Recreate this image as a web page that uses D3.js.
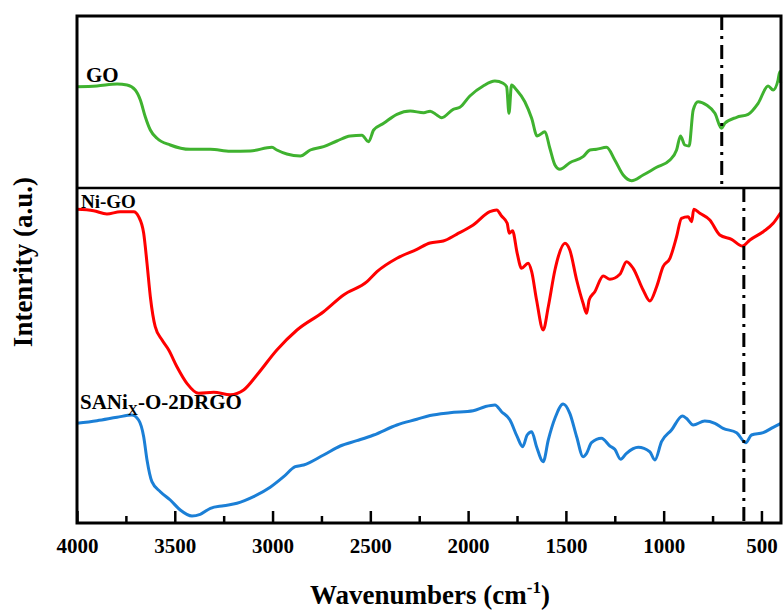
<!DOCTYPE html>
<html><head><meta charset="utf-8">
<script src="https://cdn.jsdelivr.net/npm/d3@7"></script>
<style>
body{margin:0;background:#fff}
svg{display:block}
text{font-family:"Liberation Serif","Times New Roman",serif;font-weight:bold;fill:#000}
</style>
</head><body><svg id="c" width="784" height="615"></svg>
<script>
// ---- data (wavenumber cm-1, intensity a.u.) ----
const goWave = [4000,3898,3795,3744,3702,3676,3651,3625,3591,3523,3421,3318,3216,3114,3003,2978,2927,2858,2807,2739,2671,2603,2543,2509,2483,2432,2364,2296,2227,2194,2160,2135,2076,2042,1991,1923,1863,1821,1803,1791,1778,1752,1710,1675,1647,1607,1582,1556,1531,1480,1412,1377,1343,1292,1250,1207,1164,1105,1036,968,934,914,892,870,849,824,781,738,704,687,627,568,517,466,440,415,406,402];
const goInt  = [436.3,437,439,438,433,423,406.3,393,384.7,378,373.7,373.7,371.7,372,375.7,373,369,367,373,376.3,382,387,387.7,381.3,393,399.7,408.7,412,410.3,411.8,408,405.3,413.7,415.7,427,437,442,439.7,436.3,409.7,438,433,421.3,404.7,387,391.3,374.7,358,353.7,360.3,366.3,373,373.7,375.7,363,348,342.3,348,355.7,363,373,387,378,377,413,421.3,418,409.7,394.7,399.7,405.7,408.7,419.7,437,433,443,451.3,440];

const niWave = [4000,3915,3847,3779,3710,3685,3659,3642,3625,3600,3565,3531,3489,3438,3378,3301,3216,3148,3080,2978,2875,2739,2637,2517,2466,2364,2262,2195,2127,2059,1974,1889,1854,1829,1800,1790,1773,1749,1727,1693,1675,1650,1616,1590,1556,1539,1505,1480,1445,1412,1394,1381,1352,1309,1275,1224,1190,1156,1105,1071,1036,1003,968,934,909,875,857,846,815,764,713,653,597,559,491,440,402];
const niInt  = [313.7,312.3,309,311.3,311.3,306.3,289.7,259.7,226.3,196.3,183,173,156.3,139.7,129.7,130.7,128.3,133,148,173,193,211.3,228,241.3,251.3,264.7,273.7,280,282,288.7,298,311.3,313,307,299.7,289.7,292.3,269.7,254.7,259.7,251.3,223,193,216.3,253,266.3,279.7,273,243,219.7,209.7,223,231.3,247,243.7,248.7,261.3,254.7,233,222,236.3,256.3,264.7,286.3,304.7,306.3,301.3,313.7,309.7,303,288,283.7,277,283,291.3,299.7,310.3];

const saWave = [4000,3898,3795,3719,3685,3659,3642,3617,3574,3523,3472,3412,3370,3318,3250,3182,3097,3012,2943,2884,2841,2739,2654,2569,2483,2364,2262,2195,2093,1974,1914,1863,1829,1786,1749,1721,1698,1675,1650,1616,1590,1556,1514,1480,1445,1412,1394,1369,1318,1275,1250,1220,1190,1130,1071,1045,1011,960,904,884,849,790,738,696,627,580,551,491,440,400];
const saInt  = [99.7,102.3,105.7,108,103,86.3,63,41.3,31.3,23,13,7,8.7,14.7,17.3,19.7,26.3,35.7,46.3,56.3,58,68,77,82.3,88,98,103.7,107.5,110.3,112.3,116.3,118,111.3,103,86.3,76.3,88,91.3,76.3,61.3,83,104.7,119,109.7,86.3,66.3,69.7,80.3,84.7,77,73.7,63.7,69.7,75.7,71.3,63,81.3,93,107,104.7,98,102,99.7,94.7,90.3,80.3,88,90.3,95.7,99.7];

const majorTicks = [4000,3500,3000,2500,2000,1500,1000,500];
const minorTicks = [3750,3250,2750,2250,1750,1250,750];
const panelSplit = 335;          // intensity level separating GO panel
const markerWaves = [703, 590];  // dash-dot reference lines (GO panel, lower panels)
const seriesColors = ["#3fb22f","#ff0000","#1b7fd6"];

// ---- layout ----
const svg = d3.select("#c");
const x = d3.scaleLinear().domain([4000,400]).range([77,781]);
const y = d3.scaleLinear().domain([0,507]).range([523,16]);

const line = d3.line().x(d=>x(d[0])).y(d=>y(d[1])).curve(d3.curveMonotoneX);
const series = [
  d3.zip(goWave, goInt),
  d3.zip(niWave, niInt),
  d3.zip(saWave, saInt)
];

// curves
series.forEach((s,i)=>{
  svg.append("path").datum(s).attr("d",line)
    .attr("fill","none").attr("stroke",seriesColors[i])
    .attr("stroke-width",3).attr("stroke-linejoin","round");
});

// panel divider
svg.append("line").attr("x1",x(4000)).attr("x2",x(400))
  .attr("y1",y(panelSplit)).attr("y2",y(panelSplit))
  .attr("stroke","#000").attr("stroke-width",2.5);

// dash-dot markers
svg.append("line").attr("x1",x(markerWaves[0])).attr("x2",x(markerWaves[0]))
  .attr("y1",y(507)).attr("y2",y(panelSplit))
  .attr("stroke","#000").attr("stroke-width",3).attr("stroke-dasharray","14,6,3,6");
svg.append("line").attr("x1",x(markerWaves[1])).attr("x2",x(markerWaves[1]))
  .attr("y1",y(panelSplit)).attr("y2",y(0))
  .attr("stroke","#000").attr("stroke-width",3).attr("stroke-dasharray","14,6,3,6");

// axes ticks
const axMajor = svg.append("g").attr("transform",`translate(0,${y(0)})`)
  .call(d3.axisBottom(x).tickValues(majorTicks).tickFormat(d3.format("d"))
    .tickSizeInner(-12).tickSizeOuter(0).tickPadding(15));
axMajor.select(".domain").remove();
axMajor.selectAll("line").attr("stroke","#000").attr("stroke-width",2.5);
axMajor.selectAll("text").style("font-size","21px")
  .style("font-family",'"Liberation Serif","Times New Roman",serif').style("font-weight","bold");

const axMinor = svg.append("g").attr("transform",`translate(0,${y(0)})`)
  .call(d3.axisBottom(x).tickValues(minorTicks).tickFormat("")
    .tickSizeInner(-7).tickSizeOuter(0));
axMinor.select(".domain").remove();
axMinor.selectAll("line").attr("stroke","#000").attr("stroke-width",2.5);

// frame
svg.append("rect").attr("x",x(4000)).attr("y",y(507))
  .attr("width",x(400)-x(4000)).attr("height",y(0)-y(507))
  .attr("fill","none").attr("stroke","#000").attr("stroke-width",3);

// series labels
svg.append("text").attr("x",86).attr("y",82).style("font-size","21px").text("GO");
svg.append("text").attr("x",81).attr("y",208).style("font-size","19px").text("Ni-GO");
const sl = svg.append("text").attr("x",80).attr("y",409).style("font-size","21px");
sl.append("tspan").text("SANi");
sl.append("tspan").attr("dy",6).style("font-size","14px").text("X");
sl.append("tspan").attr("dy",-6).text("-O-2DRGO");

// axis titles
const xt = svg.append("text").attr("x",430).attr("y",604).attr("text-anchor","middle").style("font-size","27px");
xt.append("tspan").text("Wavenumbers (cm");
xt.append("tspan").attr("dy",-11).style("font-size","17px").text("-1");
xt.append("tspan").attr("dy",11).text(")");

svg.append("text").attr("transform","translate(32,262) rotate(-90)")
  .attr("text-anchor","middle").style("font-size","27px").text("Intenrity (a.u.)");
</script>
</body></html>
